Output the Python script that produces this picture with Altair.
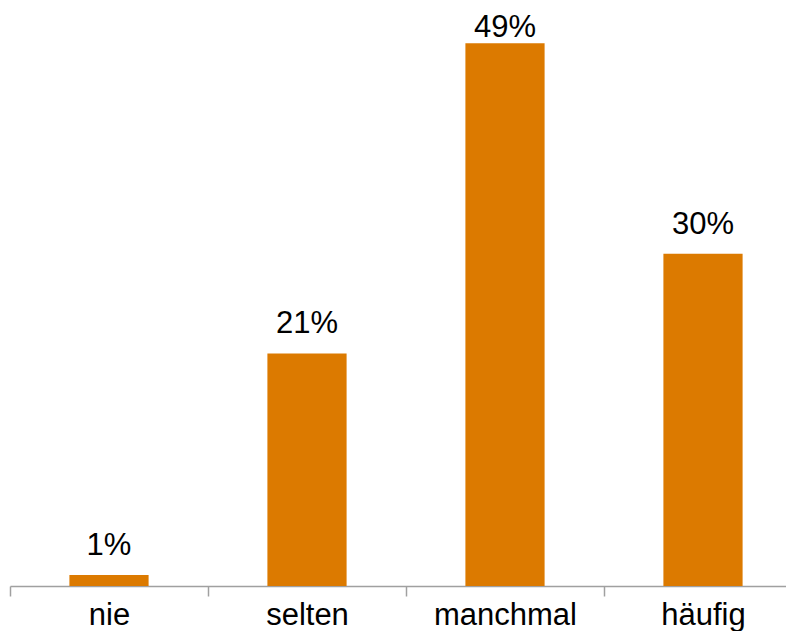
import altair as alt
import pandas as pd

categories = ["nie", "selten", "manchmal", "häufig"]
values = [1, 21, 49, 30]
labels = ["1%", "21%", "49%", "30%"]

df = pd.DataFrame({"cat": categories, "v": values, "label": labels})

x = alt.X("cat:N", sort=categories, title=None,
          scale=alt.Scale(paddingInner=0, paddingOuter=0, range=[0, 792]),
          axis=alt.Axis(labelAngle=0, tickBand="extent", domainColor="#A0A0A0",
                        tickColor="#A0A0A0", tickSize=10, tickWidth=1.5, domainWidth=1.5,
                        labelFont="Liberation Sans", labelFontSize=31,
                        labelColor="#000000", labelBaseline="alphabetic",
                        labelPadding=28))
y = alt.Y("v:Q", title=None, scale=alt.Scale(domain=[0, 52], nice=False),
          axis=None)

bars = alt.Chart(df).mark_bar(color="#DC7A00", width=alt.RelativeBandSize(0.4)).encode(x=x, y=y)

text = alt.Chart(df).transform_calculate(
    ly="min(datum.v + 1.8, 49.55)"
).mark_text(font="Liberation Sans", fontSize=31, color="#000000",
            baseline="alphabetic").encode(
    x=alt.X("cat:N", sort=categories),
    y=alt.Y("ly:Q"),
    text="label:N",
)

chart = alt.layer(bars, text).properties(
    width=776, height=576,
    padding={"left": 2, "top": 2, "right": 0, "bottom": 45},
    autosize=alt.AutoSizeParams(type="none"),
).configure_view(stroke=None)

chart.save("out.html", embed_options={"renderer": "svg", "actions": False})
